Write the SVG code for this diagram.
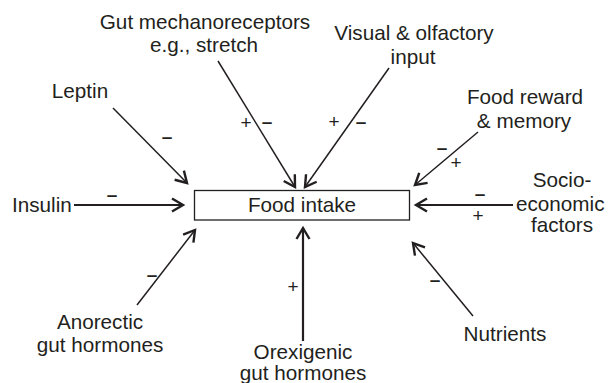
<svg xmlns="http://www.w3.org/2000/svg" width="608" height="383" viewBox="0 0 608 383">
<style>
text{font-family:"Liberation Sans",Arial,sans-serif;fill:#231f20}
.lbl{font-size:20.7px;text-anchor:middle}
.minus{font-size:19px;font-weight:bold;text-anchor:middle}
.plus{font-size:19px;text-anchor:middle}
.conn{stroke:#231f20;stroke-width:1.5;fill:none}
.thick{stroke-width:2.2}
</style>
<defs>
<marker id="ah" markerUnits="userSpaceOnUse" markerWidth="30" markerHeight="30" refX="0" refY="0" viewBox="-15 -15 30 30" orient="auto" overflow="visible">
<path d="M-11,-6.5 L0,0 L-11,6.5" fill="none" stroke="#231f20" stroke-width="2.4" stroke-linejoin="miter"/>
</marker>
</defs>
<rect width="608" height="383" fill="#fff"/>
<g id="food-intake">
<rect x="194.5" y="190.5" width="215" height="29.5" fill="none" stroke="#231f20" stroke-width="1.3"/>
<text class="lbl" x="302" y="212">Food intake</text>
</g>
<g id="insulin"><text x="12" y="212" style="font-size:20.7px">Insulin</text></g>
<g id="leptin"><text class="lbl" x="80" y="98">Leptin</text></g>
<g id="gut-mech"><text class="lbl" x="205" y="29">Gut mechanoreceptors</text><text class="lbl" x="204" y="52">e.g., stretch</text></g>
<g id="visual"><text class="lbl" x="414" y="40">Visual &amp; olfactory</text><text class="lbl" x="413" y="64">input</text></g>
<g id="reward"><text class="lbl" x="525" y="104">Food reward</text><text class="lbl" x="524" y="128">&amp; memory</text></g>
<g id="socio"><text class="lbl" x="562" y="187">Socio-</text><text x="516" y="211" style="font-size:20.7px">economic</text><text class="lbl" x="562" y="232">factors</text></g>
<g id="nutrients"><text class="lbl" x="505" y="341">Nutrients</text></g>
<g id="orexigenic"><text class="lbl" x="303" y="359">Orexigenic</text><text class="lbl" x="303" y="380">gut hormones</text></g>
<g id="anorectic"><text class="lbl" x="100" y="329">Anorectic</text><text class="lbl" x="100" y="352">gut hormones</text></g>
<g id="connectors">
<line class="conn thick" x1="74" y1="205" x2="183" y2="205" marker-end="url(#ah)"/>
<line class="conn" x1="113" y1="108" x2="187" y2="183" marker-end="url(#ah)"/>
<line class="conn" x1="218" y1="61" x2="295" y2="187" marker-end="url(#ah)"/>
<line class="conn" x1="389" y1="68" x2="305" y2="187" marker-end="url(#ah)"/>
<line class="conn" x1="478" y1="132" x2="415" y2="185" marker-end="url(#ah)"/>
<line class="conn thick" x1="513" y1="205" x2="416" y2="205" marker-end="url(#ah)"/>
<line class="conn" x1="473" y1="316" x2="413" y2="243" marker-end="url(#ah)"/>
<line class="conn thick" x1="303" y1="341" x2="303" y2="228" marker-end="url(#ah)"/>
<line class="conn" x1="137" y1="305" x2="195" y2="230" marker-end="url(#ah)"/>
<text class="minus" x="112" y="201">–</text>
<text class="minus" x="167" y="143">–</text>
<text class="plus" x="246" y="129">+</text>
<text class="minus" x="267" y="128">–</text>
<text class="plus" x="334" y="128">+</text>
<text class="minus" x="361" y="128">–</text>
<text class="minus" x="442" y="154">–</text>
<text class="plus" x="456" y="169">+</text>
<text class="minus" x="480" y="200">–</text>
<text class="plus" x="478" y="222">+</text>
<text class="minus" x="435" y="286">–</text>
<text class="plus" x="293" y="293">+</text>
<text class="minus" x="152" y="281">–</text>
</g>
</svg>
